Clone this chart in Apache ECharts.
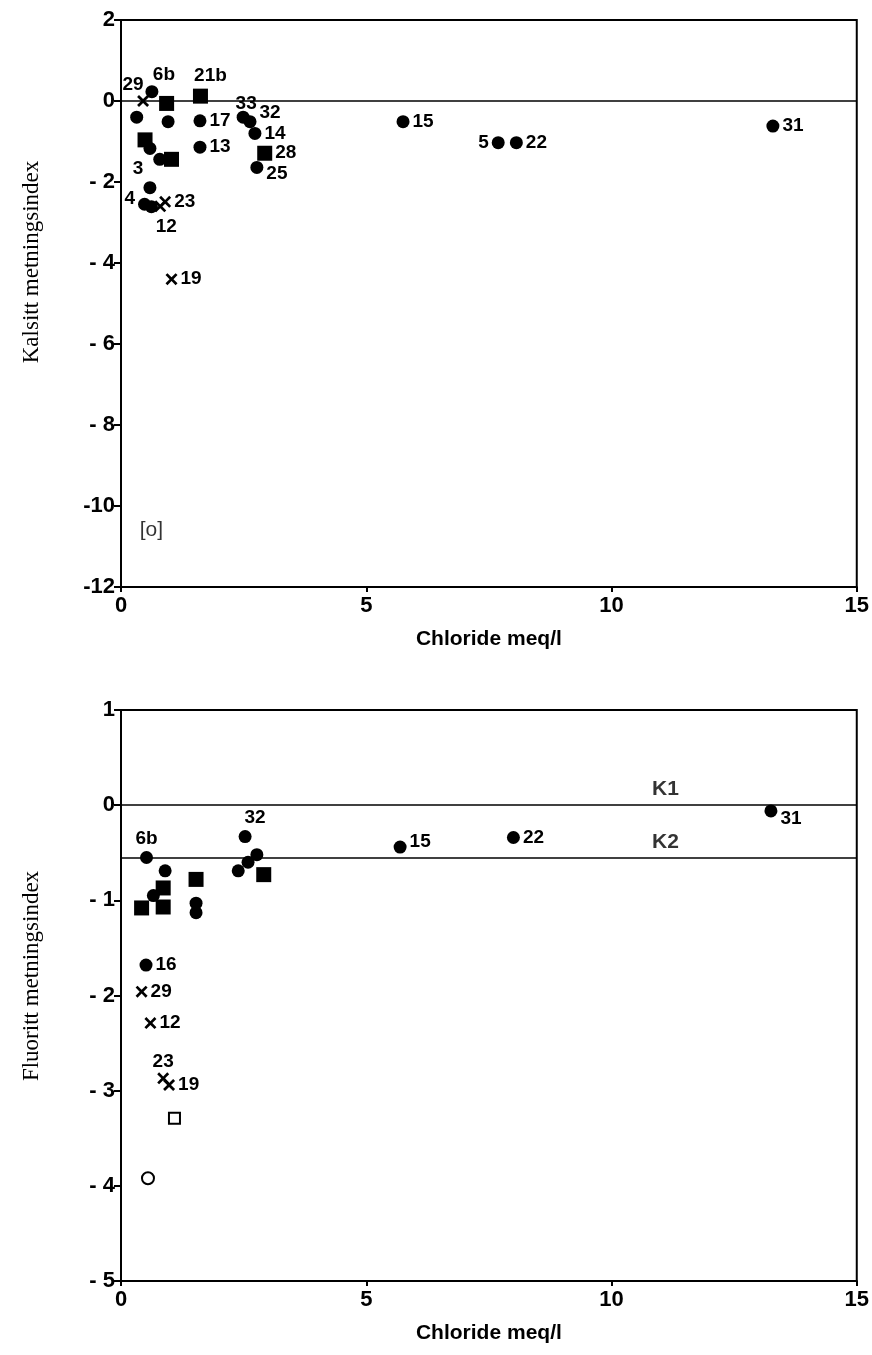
<!DOCTYPE html>
<html>
<head>
<meta charset="utf-8">
<script src="https://cdn.jsdelivr.net/npm/echarts@6/dist/echarts.min.js"></script>
<style>
html,body{margin:0;padding:0;background:#fff;}
#chart{width:872px;height:1355px;}
</style>
</head>
<body>
<div id="chart"></div>
<script>
// ---------- DATA ----------
const xTickValues = [0, 5, 10, 15];
const kalsittYTicks = [2, 0, -2, -4, -6, -8, -10, -12];
const fluorittYTicks = [1, 0, -1, -2, -3, -4, -5];

// [chloride meq/l, index, label]
const kalsittCircles = [
  [0.63, 0.23, '6b'], [0.32, -0.40, ''], [0.96, -0.51, ''], [1.61, -0.49, '17'],
  [2.49, -0.40, '33'], [2.63, -0.51, '32'], [2.73, -0.80, '14'], [0.59, -1.17, ''],
  [1.61, -1.14, '13'], [2.77, -1.64, '25'], [0.79, -1.44, ''], [0.59, -2.14, '3'],
  [0.48, -2.55, '4'], [0.62, -2.61, ''], [5.75, -0.51, '15'], [7.69, -1.03, '5'],
  [8.06, -1.03, '22'], [13.29, -0.62, '31']
];
const kalsittSquares = [
  [0.93, -0.06, ''], [1.62, 0.12, '21b'], [0.49, -0.96, ''], [2.93, -1.29, '28'], [1.03, -1.44, '']
];
const kalsittCrosses = [
  [0.45, 0.0, '29'], [0.90, -2.49, '23'], [0.80, -2.60, '12'], [1.03, -4.40, '19']
];
const kalsittNote = [[0.62, -10.6, '[o]']];
const kalsittRefLine = 0;

const fluorittCircles = [
  [0.52, -0.55, '6b'], [0.90, -0.69, ''], [0.66, -0.95, ''], [1.53, -1.03, ''], [1.53, -1.13, ''],
  [2.53, -0.33, '32'], [2.39, -0.69, ''], [2.59, -0.60, ''], [2.77, -0.52, ''],
  [5.69, -0.44, '15'], [8.00, -0.34, '22'], [13.25, -0.06, '31'], [0.51, -1.68, '16']
];
const fluorittSquares = [
  [0.42, -1.08, ''], [0.86, -0.87, ''], [0.86, -1.07, ''], [1.53, -0.78, ''], [2.91, -0.73, '']
];
const fluorittCrosses = [
  [0.42, -1.96, '29'], [0.60, -2.29, '12'], [0.86, -2.87, '23'], [0.98, -2.94, '19']
];
const fluorittOpenSquares = [[1.09, -3.29, '']];
const fluorittOpenCircles = [[0.55, -3.92, '']];
const fluorittRefNames = ['K1', 'K2'];
const fluorittRefValues = [0, -0.55];
const refLabelX = 11.1;

// ---------- STYLES ----------
const FONT = 'Liberation Sans, Arial, sans-serif';
const SERIF = 'Liberation Serif, Times New Roman, serif';
const crossPath = 'path://M0,1.6L1.6,0L5,3.4L8.4,0L10,1.6L6.6,5L10,8.4L8.4,10L5,6.6L1.6,10L0,8.4L3.4,5Z';

const topLabelPos = {
  '29': {position: 'top', offset: [-10, 2]},
  '6b': {position: 'top', offset: [12, 2]},
  '21b': {position: 'top', offset: [10, 0]},
  '33': {position: 'top', offset: [3, 6]},
  '32': {position: 'right', offset: [0, -9]},
  '3': {position: 'top', offset: [-12, 0]},
  '4': {position: 'left', offset: [0, -6]},
  '12': {position: 'bottom', offset: [6, 2]},
  '25': {position: 'right', offset: [0, 6]},
  '5': {position: 'left'}
};
const botLabelPos = {
  '6b': {position: 'top'},
  '32': {position: 'top', offset: [10, 0]},
  '23': {position: 'top', offset: [0, 2]},
  '15': {position: 'right', offset: [0, -5]},
  '31': {position: 'right', offset: [0, 8]}
};

function items(arr, posMap) {
  return arr.map(d => {
    const p = posMap[d[2]] || {position: 'right'};
    return {value: [d[0], d[1]], name: d[2], label: Object.assign({}, p)};
  });
}

function scatter(arr, posMap, idx, symbol, size, filled) {
  return {
    type: 'scatter', xAxisIndex: idx, yAxisIndex: idx,
    symbol: symbol, symbolSize: size,
    itemStyle: filled ? {color: '#000', opacity: 1} : {color: '#fff', borderColor: '#000', borderWidth: 2, opacity: 1},
    label: {show: true, formatter: p => p.name, color: '#000', fontFamily: FONT,
            fontWeight: 'bold', fontSize: 19, distance: 3},
    emphasis: {disabled: true},
    data: items(arr, posMap), z: 3
  };
}

function yFmt(v) {
  if (v < 0) return (Math.abs(v) < 10 ? '- ' : '-') + Math.abs(v);
  return String(v);
}

const axisLabelStyle = {color: '#000', fontFamily: FONT, fontWeight: 'bold', fontSize: 22};
function xAxis(idx) {
  return {
    type: 'value', gridIndex: idx, min: xTickValues[0], max: xTickValues[xTickValues.length - 1], interval: 5,
    name: 'Chloride meq/l', nameLocation: 'middle', nameGap: 42,
    nameTextStyle: {color: '#000', fontFamily: FONT, fontWeight: 'bold', fontSize: 21},
    axisLine: {show: true, onZero: false, lineStyle: {color: '#000', width: 2}},
    axisTick: {show: true, inside: false, length: 5, lineStyle: {color: '#000', width: 2}},
    axisLabel: Object.assign({margin: 8}, axisLabelStyle),
    splitLine: {show: false}
  };
}
function yAxis(idx, ticks, interval) {
  return {
    type: 'value', gridIndex: idx, min: ticks[ticks.length - 1], max: ticks[0], interval: interval,
    axisLine: {show: true, onZero: false, lineStyle: {color: '#000', width: 2}},
    axisTick: {show: true, inside: false, length: 7, lineStyle: {color: '#000', width: 2}},
    axisLabel: Object.assign({margin: 6, formatter: yFmt}, axisLabelStyle),
    splitLine: {show: false}
  };
}

const chart = echarts.init(document.getElementById('chart'), null, {renderer: 'canvas'});
const option = {
  backgroundColor: '#fff',
  animation: false,
  grid: [
    {left: 121, width: 736, top: 20, height: 567, show: true, borderColor: '#000', borderWidth: 2, backgroundColor: 'transparent'},
    {left: 121, width: 736, top: 710, height: 571, show: true, borderColor: '#000', borderWidth: 2, backgroundColor: 'transparent'}
  ],
  xAxis: [xAxis(0), xAxis(1)],
  yAxis: [yAxis(0, kalsittYTicks, 2), yAxis(1, fluorittYTicks, 1)],
  graphic: [
    {type: 'text', x: 32, y: 262, rotation: Math.PI / 2,
     style: {text: 'Kalsitt metningsindex', font: '23px ' + SERIF, fill: '#000', textAlign: 'center', textVerticalAlign: 'middle'}},
    {type: 'text', x: 32, y: 976, rotation: Math.PI / 2,
     style: {text: 'Fluoritt metningsindex', font: '23px ' + SERIF, fill: '#000', textAlign: 'center', textVerticalAlign: 'middle'}}
  ],
  series: [
    Object.assign(scatter(kalsittCircles, topLabelPos, 0, 'circle', 13, true), {
      markLine: {silent: true, symbol: 'none', label: {show: false},
                 lineStyle: {color: '#000', width: 1.5, type: 'solid'},
                 data: [{yAxis: kalsittRefLine}]}
    }),
    scatter(kalsittSquares, topLabelPos, 0, 'rect', 15, true),
    scatter(kalsittCrosses, topLabelPos, 0, crossPath, 12, true),
    {
      type: 'scatter', xAxisIndex: 0, yAxisIndex: 0, symbolSize: 0,
      data: kalsittNote.map(d => ({value: [d[0], d[1]], name: d[2]})),
      label: {show: true, position: 'inside', formatter: p => p.name, color: '#000',
              fontFamily: FONT, fontSize: 21}
    },
    Object.assign(scatter(fluorittCircles, botLabelPos, 1, 'circle', 13, true), {
      markLine: {silent: true, symbol: 'none', label: {show: false},
                 lineStyle: {color: '#000', width: 1.5, type: 'solid'},
                 data: fluorittRefValues.map(v => ({yAxis: v}))}
    }),
    scatter(fluorittSquares, botLabelPos, 1, 'rect', 15, true),
    scatter(fluorittCrosses, botLabelPos, 1, crossPath, 12, true),
    scatter(fluorittOpenSquares, botLabelPos, 1, 'rect', 11, false),
    scatter(fluorittOpenCircles, botLabelPos, 1, 'circle', 12, false),
    {
      type: 'scatter', xAxisIndex: 1, yAxisIndex: 1, symbolSize: 0,
      data: fluorittRefNames.map((n, i) => ({value: [refLabelX, fluorittRefValues[i]], name: n})),
      label: {show: true, position: 'top', distance: 5, formatter: p => p.name, color: '#000',
              fontFamily: FONT, fontWeight: 'bold', fontSize: 21}
    }
  ]
};
chart.setOption(option);
</script>
</body>
</html>
